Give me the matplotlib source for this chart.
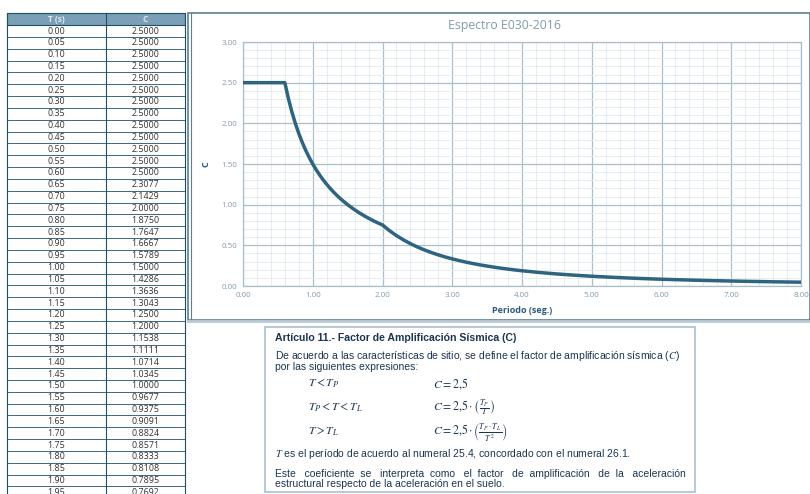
import matplotlib
matplotlib.use('Agg')
import matplotlib.pyplot as plt
from matplotlib.patches import Rectangle
from matplotlib.ticker import MultipleLocator

plt.rcParams['font.family'] = ['Liberation Sans', 'DejaVu Sans']
plt.rcParams['mathtext.fontset'] = 'stix'

# table values (as read from the sheet)
t_table = [0.00, 0.05, 0.10, 0.15, 0.20, 0.25, 0.30, 0.35, 0.40, 0.45,
           0.50, 0.55, 0.60, 0.65, 0.70, 0.75, 0.80, 0.85, 0.90, 0.95,
           1.00, 1.05, 1.10, 1.15, 1.20, 1.25, 1.30, 1.35, 1.40, 1.45,
           1.50, 1.55, 1.60, 1.65, 1.70, 1.75, 1.80, 1.85, 1.90, 1.95]
c_table = [2.5000, 2.5000, 2.5000, 2.5000, 2.5000, 2.5000, 2.5000, 2.5000, 2.5000, 2.5000,
           2.5000, 2.5000, 2.5000, 2.3077, 2.1429, 2.0000, 1.8750, 1.7647, 1.6667, 1.5789,
           1.5000, 1.4286, 1.3636, 1.3043, 1.2500, 1.2000, 1.1538, 1.1111, 1.0714, 1.0345,
           1.0000, 0.9677, 0.9375, 0.9091, 0.8824, 0.8571, 0.8333, 0.8108, 0.7895, 0.7692]

# rest of the curve beyond the visible rows
t_tail = [2.0, 2.1, 2.2, 2.3, 2.4, 2.5, 2.6, 2.7, 2.8, 2.9, 3.0, 3.1, 3.2, 3.3, 3.4,
          3.5, 3.6, 3.7, 3.8, 3.9, 4.0, 4.25, 4.50, 4.75, 5.00, 5.25, 5.50, 5.75,
          6.00, 6.25, 6.50, 6.75, 7.00, 7.25, 7.50, 7.75, 8.00]
c_tail = [0.7500, 0.6803, 0.6198, 0.5671, 0.5208, 0.4800, 0.4438, 0.4115, 0.3827, 0.3567,
          0.3333, 0.3122, 0.2930, 0.2755, 0.2595, 0.2449, 0.2315, 0.2191, 0.2078, 0.1972,
          0.1875, 0.1661, 0.1481, 0.1330, 0.1200, 0.1088, 0.0992, 0.0907, 0.0833, 0.0768,
          0.0710, 0.0658, 0.0612, 0.0571, 0.0533, 0.0499, 0.0469]

W, H = 810, 494
fig = plt.figure(figsize=(W / 100, H / 100), dpi=100)
fig.patch.set_facecolor('white')

# background axes in pixel coords for the table and boxes
bg = fig.add_axes([0, 0, 1, 1])
bg.set_xlim(0, W)
bg.set_ylim(H, 0)
bg.axis('off')

line_col = '#1f4e6b'
head_col = '#7b9fb6'
txt_col = '#333333'
osans = ['Open Sans', 'DejaVu Sans']

# table
x0, xm, x1 = 7, 106, 185
row_h = 11.83
top = 25.1
bg.add_patch(Rectangle((x0, 13), x1 - x0, top - 13, facecolor=head_col, edgecolor=line_col, lw=0.8))
bg.text((x0 + xm) / 2, 19, 'T (s)', ha='center', va='center', fontsize=6, color='#dde8ef',
        fontweight='bold', family=osans)
bg.text((xm + x1) / 2, 19, 'C', ha='center', va='center', fontsize=6, color='#dde8ef',
        fontweight='bold', family=osans)
for i, (t, c) in enumerate(zip(t_table, c_table)):
    yc = top + row_h * (i + 0.5)
    bg.plot([x0, x1], [yc + row_h / 2, yc + row_h / 2], color=line_col, lw=0.6)
    bg.text((x0 + xm) / 2, yc, '%.2f' % t, ha='center', va='center', fontsize=6.4, color=txt_col, family=osans)
    bg.text((xm + x1) / 2, yc, '%.4f' % c, ha='center', va='center', fontsize=6.4, color=txt_col, family=osans)
for xv in [x0, xm, x1]:
    bg.plot([xv, xv], [13, H], color=line_col, lw=0.8)

# chart frame
bg.add_patch(Rectangle((188, 13), W - 188, 307, facecolor='white', edgecolor='#5f7f90', lw=1.2))
bg.plot([191, 191], [13, 320], color='#5f7f90', lw=0.8)
bg.plot([188, W], [321, 321], color='#b9cad5', lw=2)
bg.text(505, 25, 'Espectro E030-2016', ha='center', va='center', fontsize=8.8, color='#7f9cad', family=osans)

# text box
bg.add_patch(Rectangle((265, 327), 430, 165, facecolor='white', edgecolor='#a9c0cf', lw=1.2))
nav = '#1c3550'
fs = 7.5
bg.text(275, 338, 'Artículo 11.- Factor de Amplificación Sísmica (C)', fontsize=7.6, color=nav,
        fontweight='bold', va='center')
bg.text(275, 356, 'De acuerdo a las características de sitio, se define el factor de amplificación sísmica ($C$)',
        fontsize=fs, color=nav, va='center')
bg.text(275, 367, 'por las siguientes expresiones:', fontsize=fs, color=nav, va='center')
bg.text(308, 384, r'$T < T_P$', fontsize=8.5, color=nav, va='center')
bg.text(433, 384, r'$C = 2{,}5$', fontsize=8.5, color=nav, va='center')
bg.text(308, 408, r'$T_P < T < T_L$', fontsize=8.5, color=nav, va='center')
bg.text(433, 408, r'$C = 2{,}5\cdot\left(\frac{T_P}{T}\right)$', fontsize=8.5, color=nav, va='center')
bg.text(308, 432, r'$T > T_L$', fontsize=8.5, color=nav, va='center')
bg.text(433, 432, r'$C = 2{,}5\cdot\left(\frac{T_P\cdot T_L}{T^2}\right)$', fontsize=8.5, color=nav, va='center')
bg.text(275, 454, '$T$ es el período de acuerdo al numeral 25.4, concordado con el numeral 26.1.',
        fontsize=fs, color=nav, va='center')
bg.text(275, 474, 'Este   coeficiente  se   interpreta  como   el  factor   de  amplificación   de  la   aceleración',
        fontsize=fs, color=nav, va='center')
bg.text(275, 484, 'estructural respecto de la aceleración en el suelo.', fontsize=fs, color=nav, va='center')

# chart
ax = fig.add_axes([243 / W, 1 - 286 / H, 558 / W, 244 / H])
ax.plot(t_table + t_tail, c_table + c_tail, color='#2e6480', lw=2.5, solid_capstyle='round',
        solid_joinstyle='round', zorder=3)
ax.set_xlim(0, 8)
ax.set_ylim(0, 3)
ax.xaxis.set_major_locator(MultipleLocator(1))
ax.yaxis.set_major_locator(MultipleLocator(0.5))
ax.xaxis.set_minor_locator(MultipleLocator(0.2))
ax.yaxis.set_minor_locator(MultipleLocator(0.1))
ax.grid(which='major', color='#a9bfcc', lw=0.9)
ax.grid(which='minor', color='#e1eaef', lw=0.6)
ax.set_xticklabels(['%.2f' % v for v in ax.get_xticks()], family=osans)
ax.set_yticklabels(['%.2f' % v for v in ax.get_yticks()], family=osans)
ax.tick_params(which='both', length=0, labelsize=5.8, labelcolor='#7f9cad', pad=4)
for s in ax.spines.values():
    s.set_color('#a9bfcc')
    s.set_linewidth(0.9)
ax.set_xlabel('Periodo (seg.)', fontsize=6.5, fontweight='bold', color='#2a5a78', labelpad=5, family=osans)
ax.set_ylabel('C', fontsize=6.5, fontweight='bold', color='#2a5a78', labelpad=8, family=osans)

fig.savefig('out.png', dpi=100)
